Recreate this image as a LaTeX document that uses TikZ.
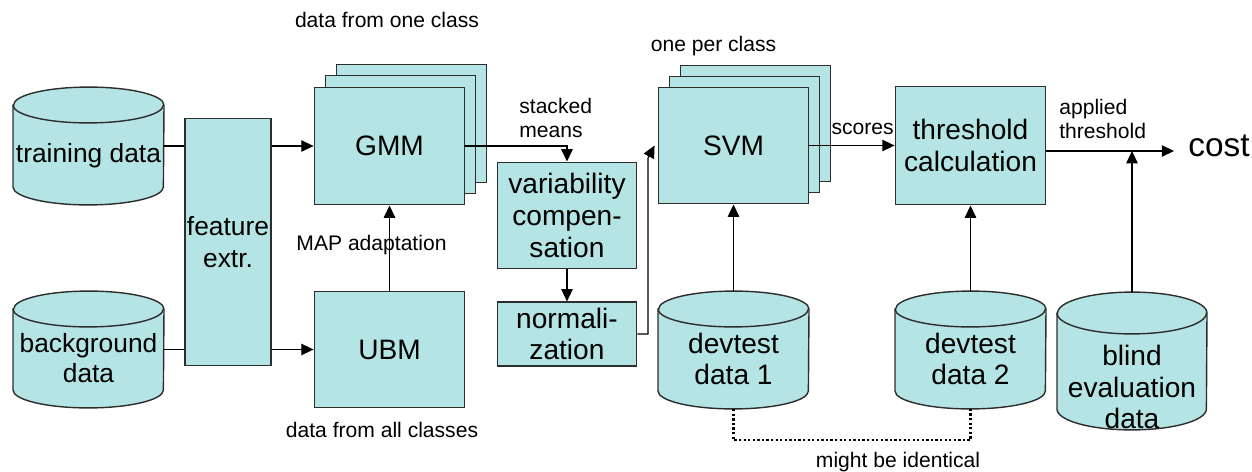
\documentclass[tikz,border=0pt]{standalone}
\usepackage{fontspec}
\setmainfont{Liberation Sans}
\usetikzlibrary{arrows.meta,calc}
\definecolor{boxfill}{RGB}{180,228,228}
\definecolor{edgegray}{RGB}{45,45,45}
\def\pxl{0.5669pt}

\tikzset{
  box/.style={draw=edgegray, fill=boxfill, line width=0.8pt, inner sep=0pt,
    align=center, font=\fontsize{16}{18}\selectfont},
  cylbody/.style={draw=edgegray, fill=boxfill, line width=0.8pt},
  cyltext/.style={align=center, inner sep=0pt, font=\fontsize{16}{18}\selectfont},
  note/.style={inner sep=0pt, font=\fontsize{12}{13.6}\selectfont},
  arr/.style={-{Triangle[length=7pt,width=6.5pt]}, line width=0.65pt},
  seg/.style={line width=0.65pt},
  dotline/.style={line width=1.3pt, dash pattern=on 1.3pt off 1.3pt},
}

% database drum: name, centre x, top y, bottom y, x radius, y radius of the caps
\newcommand{\dbcyl}[6]{%
  \path[cylbody] (#2-#5,#3-#6) -- (#2-#5,#4+#6)
    arc[start angle=180,end angle=360,x radius=#5*\pxl,y radius=#6*\pxl]
    -- (#2+#5,#3-#6)
    arc[start angle=0,end angle=180,x radius=#5*\pxl,y radius=#6*\pxl] -- cycle;
  \draw[edgegray, line width=0.8pt] (#2-#5,#3-#6)
    arc[start angle=180,end angle=360,x radius=#5*\pxl,y radius=#6*\pxl];
  \node[inner sep=0pt, minimum width=2*#5*\pxl, minimum height=(#3-#4)*\pxl]
    (#1) at (#2,{(#3+#4)/2}) {};
}

\begin{document}
\begin{tikzpicture}[x=0.02cm, y=0.02cm]
\useasboundingbox (0,0) rectangle (1252,471);

% data sources
\dbcyl{td}{88.5}{384}{266}{75.5}{18}
\node[cyltext, font=\fontsize{15}{17}\selectfont] (td-t) at (88.5,315) {training data};
\dbcyl{bg}{88.5}{180}{63}{75.5}{18}
\node[cyltext, font=\fontsize{15}{17}\selectfont] (bg-t) at (88.5,113) {background\\data};
\dbcyl{dev1}{733.5}{180}{62}{75.5}{18}
\node[cyltext] (dev1-t) at (733.5,112) {devtest\\data 1};
\dbcyl{dev2}{970.5}{180}{62}{75.5}{18}
\node[cyltext] (dev2-t) at (970.5,112) {devtest\\data 2};
\dbcyl{blind}{1132}{179}{41}{75}{21}
\node[cyltext] (blind-t) at (1132,84) {blind\\evaluation\\data};

% feature extraction
\node[box, minimum width=86*\pxl, minimum height=248*\pxl,
  font=\fontsize{15}{18}\selectfont] (feat) at (228,229) {feature\\extr.};

% class models (stacked)
\node[box, minimum width=151*\pxl, minimum height=118*\pxl] (gmm3) at (411.5,347.5) {};
\node[box, minimum width=151*\pxl, minimum height=118*\pxl] (gmm2) at (400.5,336.5) {};
\node[box, minimum width=151*\pxl, minimum height=118*\pxl] (gmm) at (389.5,325) {GMM};
\node[box, minimum width=151*\pxl, minimum height=117*\pxl] (ubm) at (389.5,121.5) {UBM};

\node[box, minimum width=140*\pxl, minimum height=107*\pxl] (var) at (567,255.5) {variability\\compen-\\sation};
\node[box, minimum width=140*\pxl, minimum height=64*\pxl] (norm) at (567,137) {normali-\\zation};

\node[box, minimum width=151*\pxl, minimum height=117*\pxl] (svm3) at (755.5,347.5) {};
\node[box, minimum width=151*\pxl, minimum height=117*\pxl] (svm2) at (744.5,336.5) {};
\node[box, minimum width=151*\pxl, minimum height=117*\pxl] (svm) at (733.5,325.5) {SVM};

\node[box, minimum width=151*\pxl, minimum height=119*\pxl] (thr) at (970.5,325.5) {threshold\\calculation};

\node[inner sep=0pt, anchor=west, font=\fontsize{19}{21}\selectfont] (cost) at (1188,325) {cost};

% connections
\draw[seg] (td.east) -- (td.east -| feat.west);
\draw[arr] (feat.east |- gmm.west) -- (gmm.west);
\draw[seg] (bg.east) -- (bg.east -| feat.west);
\draw[arr] (feat.east |- ubm.west) -- (ubm.west);
\draw[arr] (ubm.north) -- (gmm.south);
\draw[arr] (gmm.east) -| (var.north);
\draw[arr] (var.south) -- (norm.north);
\coordinate (bend) at (648,313);
\draw[arr] (norm.east) -| (bend) -- ($(svm.west)+(-3,0)$);
\draw[arr] (svm.east) -- (thr.west);
\draw[arr] (dev1.north) -- (svm.south);
\draw[arr] (dev2.north) -- (thr.south);
\coordinate (throut) at ($(thr.east)+(0,-5.5)$);
\draw[arr, shorten >=14*\pxl] (throut) -- (throut -| cost.west);
\draw[arr] (blind.north) -- (blind.north |- throut);
\draw[dotline] (dev1.south) -- ++(0,-31) -| (dev2.south);

% annotations
\node[note] (l-one) at (387,451) {data from one class};
\node[note] (l-all) at (382,41) {data from all classes};
\node[note] (l-map) at (371.5,226) {MAP adaptation};
\node[note, align=left, anchor=west] (l-stack) at (519,353) {stacked\\means};
\node[note] (l-oneper) at (713.5,425) {one per class};
\node[note, anchor=east] (l-scores) at (894,342) {scores};
\node[note, align=left, anchor=west] (l-appl) at (1059,352) {applied\\threshold};
\node[note] (l-might) at (898,9) {might be identical};
\end{tikzpicture}
\end{document}
